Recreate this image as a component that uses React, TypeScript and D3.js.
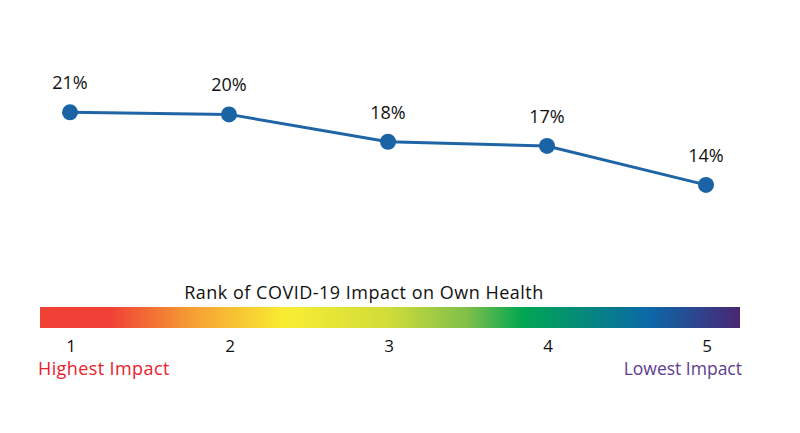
import React, { useRef, useEffect } from 'react';
import * as d3 from 'd3';

const ranks = [1, 2, 3, 4, 5];
const shares = [20.6, 20.4, 17.8, 17.4, 13.7];
const shareLabels = ['21%', '20%', '18%', '17%', '14%'];
const scaleTitle = 'Rank of COVID-19 Impact on Own Health';
const endLabels = ['Highest Impact', 'Lowest Impact'];
const gradientStops = [
    { offset: 0, color: '#ef4136' },
    { offset: 0.1, color: '#ef4136' },
    { offset: 0.22, color: '#f6a033' },
    { offset: 0.35, color: '#f9ed32' },
    { offset: 0.5, color: '#cfdc3a' },
    { offset: 0.61, color: '#7fbf4a' },
    { offset: 0.69, color: '#00a651' },
    { offset: 0.87, color: '#0b68a8' },
    { offset: 1, color: '#4b2673' },
];

const width = 800;
const height = 433;
const font = "'Open Sans', 'Noto Sans', sans-serif";

const RankChart: React.FC = () => {
    const ref = useRef<SVGSVGElement>(null);

    useEffect(() => {
        if (!ref.current) return;
        const svg = d3.select(ref.current);
        svg.selectAll('*').remove();

        const x = d3.scalePoint<number>().domain(ranks).range([70, 706]);
        const y = d3.scaleLinear().domain([0, 25]).range([329, 66]);

        const data = ranks.map((r, i) => ({ rank: r, value: shares[i], label: shareLabels[i] }));

        // colour bar
        const grad = svg.append('defs').append('linearGradient')
            .attr('id', 'rankGrad')
            .attr('x1', '0%').attr('x2', '100%');
        grad.selectAll('stop')
            .data(gradientStops)
            .enter()
            .append('stop')
            .attr('offset', d => d.offset)
            .attr('stop-color', d => d.color);

        svg.append('rect')
            .attr('x', 40)
            .attr('y', 307)
            .attr('width', 700)
            .attr('height', 21)
            .attr('fill', 'url(#rankGrad)');

        svg.append('text')
            .attr('x', 364)
            .attr('y', 299)
            .attr('text-anchor', 'middle')
            .attr('font-family', font)
            .attr('font-size', 18)
            .attr('letter-spacing', 0.5)
            .attr('fill', '#111')
            .text(scaleTitle);

        svg.selectAll('.rank')
            .data(ranks)
            .enter()
            .append('text')
            .attr('class', 'rank')
            .attr('x', d => x(d)! + 1)
            .attr('y', 352)
            .attr('text-anchor', 'middle')
            .attr('font-family', font)
            .attr('font-size', 17)
            .attr('fill', '#111')
            .text(d => d);

        svg.append('text')
            .attr('x', 38)
            .attr('y', 375)
            .attr('font-family', font)
            .attr('font-size', 18)
            .attr('letter-spacing', 0.4)
            .attr('fill', '#e8212b')
            .text(endLabels[0]);

        svg.append('text')
            .attr('x', 742)
            .attr('y', 375)
            .attr('text-anchor', 'end')
            .attr('font-family', font)
            .attr('font-size', 17.5)
            .attr('fill', '#5b3d91')
            .text(endLabels[1]);

        // line
        const line = d3.line<{ rank: number; value: number }>()
            .x(d => x(d.rank)!)
            .y(d => y(d.value));

        svg.append('path')
            .datum(data)
            .attr('d', line)
            .attr('fill', 'none')
            .attr('stroke', '#1f65a6')
            .attr('stroke-width', 3);

        svg.selectAll('.dot')
            .data(data)
            .enter()
            .append('circle')
            .attr('class', 'dot')
            .attr('cx', d => x(d.rank)!)
            .attr('cy', d => y(d.value))
            .attr('r', 8)
            .attr('fill', '#1a63a5');

        svg.selectAll('.val')
            .data(data)
            .enter()
            .append('text')
            .attr('class', 'val')
            .attr('x', d => x(d.rank)!)
            .attr('y', d => y(d.value) - 23)
            .attr('text-anchor', 'middle')
            .attr('font-family', font)
            .attr('font-size', 18)
            .attr('fill', '#111')
            .text(d => d.label);
    }, []);

    return <svg ref={ref} width={width} height={height} style={{ display: 'block' }}></svg>;
};

export default function App() {
    return (
        <div style={{ margin: -8 }}>
            <RankChart />
        </div>
    );
}
